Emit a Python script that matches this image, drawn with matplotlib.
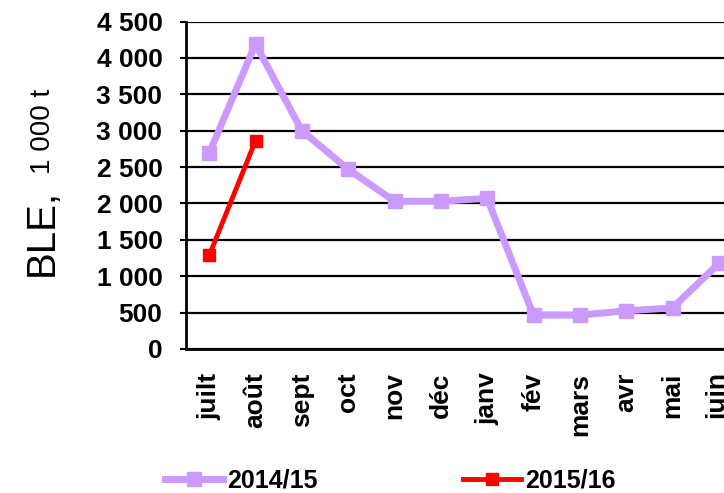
import matplotlib
matplotlib.use("Agg")
import matplotlib.pyplot as plt

plt.rcParams['font.family'] = ['Liberation Sans', 'DejaVu Sans']

# data
months = ["juilt", "août", "sept", "oct", "nov", "déc", "janv", "fév", "mars", "avr", "mai", "juin"]
ble_2014_15 = [2690, 4190, 3000, 2470, 2030, 2030, 2070, 465, 465, 525, 565, 1175]
ble_2015_16 = [1285, 2860]
yticks = [0, 500, 1000, 1500, 2000, 2500, 3000, 3500, 4000, 4500]

W, H = 724, 493
fig = plt.figure(figsize=(W / 100, H / 100), dpi=100)

# plot area runs past the right edge, as in the reference
left, right, top, bottom = 186, 742, 21.5, 349
ax = fig.add_axes([left / W, 1 - bottom / H, (right - left) / W, (bottom - top) / H])

x = range(len(months))
ax.plot(x, ble_2014_15, color="#CC99FF", lw=5, marker="s", ms=10,
        label="2014/15", zorder=3)
ax.plot(range(len(ble_2015_16)), ble_2015_16, color="#FF0000", lw=3.5, marker="s", ms=9,
        label="2015/16", zorder=4)

ax.set_xlim(-0.5, len(months) - 0.5)
ax.set_ylim(0, 4500)
ax.set_yticks(yticks)
ax.set_yticklabels([f"{v:,}".replace(",", " ") for v in yticks],
                   fontsize=19, fontweight="bold")
ax.set_xticks(list(x))
ax.set_xticklabels(months, rotation=90, fontsize=19, fontweight="bold")
ax.tick_params(axis="x", length=0, pad=17)
ax.tick_params(axis="y", length=4, width=1.5, pad=13)
ax.yaxis.grid(True, color="black", lw=1.6)
ax.set_axisbelow(True)

for s in ["top", "right"]:
    ax.spines[s].set_visible(False)
for s in ["left", "bottom"]:
    ax.spines[s].set_linewidth(2)

# y label: big "BLE," and smaller "1 000 t"
fig.text(53 / W, 1 - 232 / H, "BLE,", fontsize=29, rotation=90,
         rotation_mode="anchor", ha="center", va="baseline")
fig.text(50 / W, 1 - 131 / H, "1 000 t", fontsize=20, rotation=90,
         rotation_mode="anchor", ha="center", va="baseline")

leg = fig.legend(loc="center left", bbox_to_anchor=(165 / W, 1 - 481 / H), ncol=2,
                 frameon=False, handlelength=2.3, handletextpad=0.2,
                 columnspacing=5.8, borderaxespad=0, borderpad=0,
                 prop={"size": 18, "weight": "bold"})

fig.savefig("out.png", dpi=100)
